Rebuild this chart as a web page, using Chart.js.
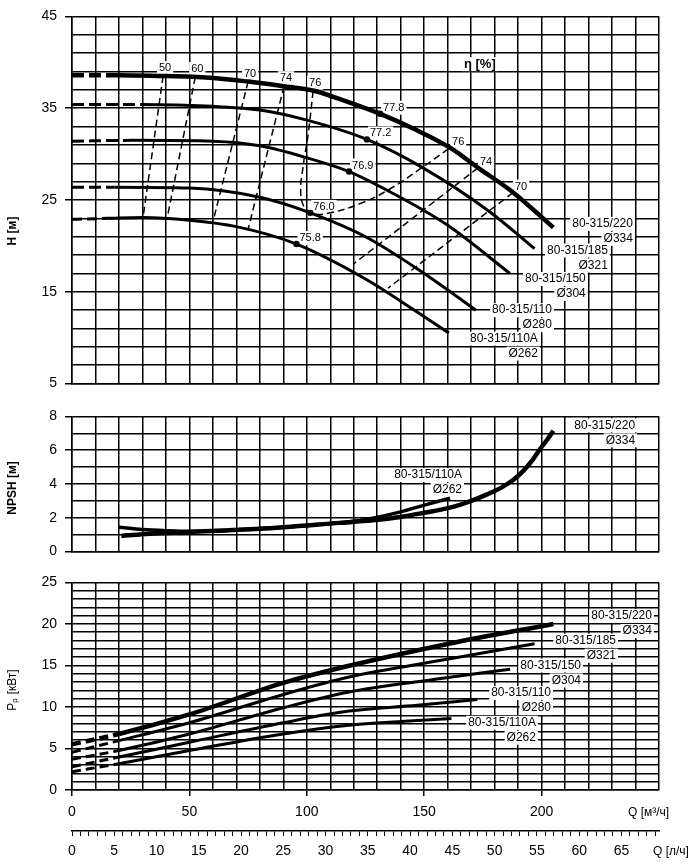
<!DOCTYPE html>
<html>
<head>
<meta charset="utf-8">
<script src="https://cdn.jsdelivr.net/npm/chart.js@4.4.1/dist/chart.umd.min.js"></script>
<style>
  html, body { margin: 0; padding: 0; background: #fff; }
  #wrap { position: relative; width: 700px; height: 866px; }
  #wrap canvas { position: absolute; left: 0; }
</style>
</head>
<body>
<div id="wrap">
  <canvas id="hChart" width="700" height="400" style="top:0px"></canvas>
  <canvas id="npshChart" width="700" height="168" style="top:400px"></canvas>
  <canvas id="pChart" width="700" height="300" style="top:566px"></canvas>
</div>
<script>
// ---------- data ----------
const pumps = ["80-315/220", "80-315/185", "80-315/150", "80-315/110", "80-315/110A"];
const impellers = ["Ø334", "Ø321", "Ø304", "Ø280", "Ø262"];

// H(Q), m
const hQ220 = [0, 20, 40, 60, 75, 90, 103, 115, 131, 146, 161, 173, 188, 205];
const hH220 = [38.6, 38.6, 38.5, 38.3, 37.9, 37.4, 36.9, 35.9, 34.4, 32.7, 30.7, 28.5, 25.8, 22.0];
const hQ185 = [0, 29, 60, 80, 100, 125.6, 149.5, 178, 197];
const hH185 = [35.4, 35.4, 35.2, 34.8, 33.7, 31.6, 28.5, 23.7, 19.7];
const hQ150 = [0, 26, 60, 80, 100, 118, 135.4, 159.7, 186.5];
const hH150 = [31.4, 31.5, 31.4, 30.9, 29.6, 28.1, 25.9, 22.3, 17.0];
const hQ110 = [0, 18, 50, 80, 101.5, 125, 150, 172];
const hH110 = [26.4, 26.4, 26.3, 25.3, 23.6, 21.0, 17.0, 13.0];
const hQ110A = [0, 15, 30, 50, 70, 95.6, 125, 147, 160.5];
const hH110A = [22.9, 23.0, 23.1, 22.8, 22.1, 20.2, 16.4, 12.8, 10.5];
const hDashTo = [20, 29, 26, 18, 15];

// efficiency iso-lines, %
const iso50Q = [38.8, 30.2], iso50H = [38.5, 23.0];
const iso60Q = [52.5, 40.5], iso60H = [38.4, 23.0];
const iso70Q = [75, 60], iso70H = [37.9, 22.6];
const iso74Q = [90.3, 75], iso74H = [37.4, 21.8];
const iso76Q = [102.7, 100.6, 98.4, 97.4, 99, 103, 110, 122.7, 135.4, 149.5, 161];
const iso76H = [36.9, 32.2, 28.6, 25.8, 24.2, 23.5, 23.6, 24.6, 26.2, 28.6, 30.7];
const iso74rQ = [172.9, 119.7], iso74rH = [28.5, 18.0];
const iso70rQ = [187.8, 134.6], iso70rH = [25.8, 15.4];
const isoTopEta = ["50", "60", "70", "74", "76"];
const isoRightEta = ["76", "74", "70"];

// best efficiency points
const bepQ = [131.2, 125.6, 118, 101.5, 95.6];
const bepH = [34.4, 31.6, 28.1, 23.6, 20.2];
const bepEta = ["77.8", "77.2", "76.9", "76.0", "75.8"];

// NPSH(Q), m
const nQ220 = [21, 30, 40, 50, 80, 114, 128, 140, 150, 161, 170, 177, 183, 188, 192, 196, 199.5, 202.5, 205];
const nV220 = [0.93, 1.03, 1.1, 1.16, 1.35, 1.7, 1.85, 2.05, 2.3, 2.6, 3.0, 3.4, 3.8, 4.25, 4.75, 5.4, 6.1, 6.65, 7.15];
const nQ110A = [20, 30, 40, 50, 80, 100, 120, 128, 140, 150, 161];
const nV110A = [1.44, 1.31, 1.24, 1.2, 1.37, 1.55, 1.8, 1.98, 2.35, 2.75, 3.16];

// P(Q), kW
const pQ220 = [0, 20, 50, 90, 118, 161, 205];
const pP220 = [5.5, 6.75, 9.1, 12.9, 14.96, 17.65, 20.0];
const pQ185 = [0, 20, 50, 90, 118, 161, 197];
const pP185 = [4.55, 5.95, 8.1, 11.5, 13.6, 15.8, 17.6];
const pQ150 = [0, 20, 50, 90, 118, 154, 186.6];
const pP150 = [3.7, 4.76, 6.75, 9.9, 11.8, 13.3, 14.55];
const pQ110 = [0, 20, 50, 90, 118, 147, 172.6];
const pP110 = [2.8, 3.97, 5.75, 8.1, 9.5, 10.2, 10.9];
const pQ110A = [0, 20, 50, 90, 118, 140, 161.6];
const pP110A = [2.2, 3.17, 4.76, 6.75, 7.8, 8.25, 8.6];

// ---------- helpers ----------
Chart.defaults.font.family = '"Liberation Sans", Arial, sans-serif';
Chart.defaults.color = "#000";

const gridColor = "#000";
const gridWidth = 1.5;
const FONT = '"Liberation Sans", Arial, sans-serif';

function series(qs, vs) {
    return qs.map((q, i) => ({ x: q, y: vs[i] }));
}

function curve(qs, vs, width, dashTo, dash) {
    return {
        data: series(qs, vs),
        borderColor: "#000",
        borderWidth: width,
        pointRadius: 0,
        fill: false,
        cubicInterpolationMode: "monotone",
        segment: {
            borderDash: (c) => (c.p1.parsed.x <= dashTo ? dash : undefined),
        },
    };
}

function iso(qs, vs, tension) {
    return {
        data: series(qs, vs),
        borderColor: "#000",
        borderWidth: 1.5,
        borderDash: [7, 4],
        pointRadius: 0,
        tension: tension || 0,
        fill: false,
    };
}

function qScale(show) {
    const lab = (v) => v % 50 === 0 && v <= 200;
    return {
        type: "linear",
        min: 0,
        max: 250,
        weight: 0,
        ticks: {
            stepSize: 10,
            display: show,
            autoSkip: false,
            maxRotation: 0,
            padding: 8,
            font: { size: 14 },
            callback: (v) => (lab(v) ? v : ""),
        },
        grid: {
            color: gridColor,
            lineWidth: gridWidth,
            drawTicks: show,
            tickLength: 6,
            tickColor: (c) => (c.tick && lab(c.tick.value) ? "#000" : "rgba(0,0,0,0)"),
        },
        border: { display: true, color: "#000", width: gridWidth },
        afterFit: (s) => {
            s.height = show ? 41 : 0;
        },
    };
}

function valScale(min, max, lab) {
    return {
        type: "linear",
        min: min,
        max: max,
        ticks: {
            stepSize: (max - min) === 40 ? 2 : 1,
            autoSkip: false,
            padding: 8,
            font: { size: 14 },
            callback: (v) => (lab(v) ? v : ""),
        },
        grid: {
            color: gridColor,
            lineWidth: gridWidth,
            tickLength: 7,
            tickColor: (c) => (c.tick && lab(c.tick.value) ? "#000" : "rgba(0,0,0,0)"),
        },
        border: { display: true, color: "#000", width: gridWidth },
        afterFit: (s) => {
            s.width = 72;
        },
    };
}

// text labels placed in data coordinates, white box behind
const labelPlugin = {
    id: "curveLabels",
    beforeDatasetsDraw(chart, args, opts) {
        const ctx = chart.ctx;
        const x = chart.scales.x;
        const y = chart.scales.y;
        (opts.items || []).forEach((it) => {
            ctx.save();
            ctx.font = it.font || "12px " + FONT;
            ctx.textBaseline = "middle";
            ctx.textAlign = it.align || "left";
            const px = x.getPixelForValue(it.q) + (it.dx || 0);
            const py = y.getPixelForValue(it.v) + (it.dy || 0);
            it.lines.forEach((t, k) => {
                const w = ctx.measureText(t).width;
                const yy = py + k * 15;
                const left = it.align === "right" ? px - w : it.align === "center" ? px - w / 2 : px;
                ctx.fillStyle = "#fff";
                ctx.fillRect(left - 2, yy - 7, w + 4, 14);
                ctx.fillStyle = "#000";
                ctx.fillText(t, px, yy);
            });
            ctx.restore();
        });
    },
};

// rotated y-axis title and axis units
const titlePlugin = {
    id: "sideTitles",
    afterDraw(chart, args, opts) {
        const ctx = chart.ctx;
        if (opts.yTitle) {
            ctx.save();
            ctx.translate(13, opts.yTitleAt);
            ctx.rotate(-Math.PI / 2);
            ctx.font = opts.yTitleFont;
            ctx.fillStyle = "#000";
            ctx.textAlign = "center";
            ctx.textBaseline = "middle";
            ctx.fillText(opts.yTitle, 0, 0);
            ctx.restore();
        }
        if (opts.units) {
            const x = chart.scales.x;
            const x2 = chart.scales.x2;
            ctx.save();
            ctx.font = "12px " + FONT;
            ctx.fillStyle = "#000";
            ctx.textBaseline = "middle";
            ctx.textAlign = "left";
            ctx.fillText(opts.units[0], x.right - 31, x.top + 23);
            ctx.fillText(opts.units[1], x.right - 6, x2.top + 21);
            ctx.restore();
        }
    },
};

function baseOptions(scales, padding, labels, titles) {
    return {
        responsive: false,
        animation: false,
        layout: { padding: padding },
        scales: scales,
        plugins: {
            legend: { display: false },
            tooltip: { enabled: false },
            curveLabels: { items: labels },
            sideTitles: titles,
        },
    };
}

// ---------- H chart ----------
const hCurves = [
    curve(hQ220, hH220, 4.5, hDashTo[0], [12, 5]),
    curve(hQ185, hH185, 3, hDashTo[1], [12, 5]),
    curve(hQ150, hH150, 3, hDashTo[2], [12, 5]),
    curve(hQ110, hH110, 3, hDashTo[3], [12, 5]),
    curve(hQ110A, hH110A, 3, hDashTo[4], [10, 5]),
];
const isoTop = [
    [iso50Q, iso50H], [iso60Q, iso60H], [iso70Q, iso70H], [iso74Q, iso74H], [iso76Q, iso76H],
];
const isoRight = [
    [iso76Q.slice(-1), iso76H.slice(-1)], [iso74rQ, iso74rH], [iso70rQ, iso70rH],
];
const hSets = hCurves.concat([
    iso(iso50Q, iso50H), iso(iso60Q, iso60H), iso(iso70Q, iso70H), iso(iso74Q, iso74H),
    iso(iso76Q, iso76H, 0.4), iso(iso74rQ, iso74rH), iso(iso70rQ, iso70rH),
    {
        data: series(bepQ, bepH),
        showLine: false,
        pointRadius: 3.2,
        pointBackgroundColor: "#000",
        pointBorderWidth: 0,
    },
]);

const hLabQ = [238.9, 228.2, 218.8, 204.4, 198.4];
const hLabV = [22.4, 19.5, 16.4, 13.0, 9.9];
const hLabels = pumps.map((p, i) => ({ q: hLabQ[i], v: hLabV[i], lines: [p, impellers[i]], align: "right" }))
    .concat(isoTop.map((d, i) => ({ q: d[0][0], v: d[1][0], lines: [isoTopEta[i]], align: "center", dx: 2, dy: -8, font: "11px " + FONT })))
    .concat(isoRight.map((d, i) => ({ q: d[0][0], v: d[1][0], lines: [isoRightEta[i]], dx: 2, dy: -6, font: "11px " + FONT })))
    .concat(bepEta.map((t, i) => ({ q: bepQ[i], v: bepH[i], lines: [t], dx: 3, dy: -6, font: "11px " + FONT })))
    .concat([{ q: 173.7, v: 39.8, lines: ["η [%]"], align: "center", font: "bold 13px " + FONT }]);

new Chart(document.getElementById("hChart"), {
    type: "line",
    data: { datasets: hSets },
    options: baseOptions(
        { x: qScale(false), y: valScale(5, 45, (v) => (v - 5) % 10 === 0) },
        { left: 0, right: 41, top: 11, bottom: 9 },
        hLabels,
        { yTitle: "H [м]", yTitleAt: 231, yTitleFont: "bold 12px " + FONT }
    ),
    plugins: [labelPlugin, titlePlugin],
});

// ---------- NPSH chart ----------
new Chart(document.getElementById("npshChart"), {
    type: "line",
    data: {
        datasets: [
            curve(nQ220, nV220, 4.5, -1, undefined),
            curve(nQ110A, nV110A, 3.5, -1, undefined),
        ],
    },
    options: baseOptions(
        { x: qScale(false), y: valScale(0, 8, (v) => v % 2 === 0) },
        { left: 0, right: 41, top: 12, bottom: 9 },
        [
            { q: 239.8, v: 7.47, lines: [pumps[0], impellers[0]], align: "right" },
            { q: 166.1, v: 4.53, lines: [pumps[4], impellers[4]], align: "right" },
        ],
        { yTitle: "NPSH [м]", yTitleAt: 88, yTitleFont: "bold 12px " + FONT }
    ),
    plugins: [labelPlugin, titlePlugin],
});

// ---------- P chart ----------
const pLabQ = [247.0, 231.7, 216.8, 204.0, 197.6];
const pLabV = [20.95, 17.98, 15.0, 11.67, 8.1];
const pScales = {
    x: qScale(true),
    x2: {
        type: "linear",
        position: "bottom",
        weight: 1,
        min: 0,
        max: 250 / 3.6,
        ticks: {
            stepSize: 1,
            autoSkip: false,
            maxRotation: 0,
            includeBounds: false,
            padding: 7,
            font: { size: 14 },
            callback: (v) => (v % 5 === 0 ? v : ""),
        },
        grid: { drawOnChartArea: false, tickLength: 5, color: "#000", lineWidth: 1 },
        border: { display: true, color: "#000", width: 1.5 },
        afterFit: (s) => {
            s.height = 35;
        },
    },
    y: valScale(0, 25, (v) => v % 5 === 0),
};

new Chart(document.getElementById("pChart"), {
    type: "line",
    data: {
        datasets: [
            curve(pQ220, pP220, 4.5, 20, [9, 5]),
            curve(pQ185, pP185, 3, 20, [9, 5]),
            curve(pQ150, pP150, 3, 20, [9, 5]),
            curve(pQ110, pP110, 3, 20, [9, 5]),
            curve(pQ110A, pP110A, 3, 20, [9, 5]),
        ],
    },
    options: baseOptions(
        pScales,
        { left: 0, right: 41, top: 14, bottom: 0 },
        pumps.map((p, i) => ({ q: pLabQ[i], v: pLabV[i], lines: [p, impellers[i]], align: "right" })),
        { yTitle: "Pₚ [кВт]", yTitleAt: 124, yTitleFont: "12px " + FONT, units: ["Q [м³/ч]", "Q [л/ч]"] }
    ),
    plugins: [labelPlugin, titlePlugin],
});
</script>
</body>
</html>
